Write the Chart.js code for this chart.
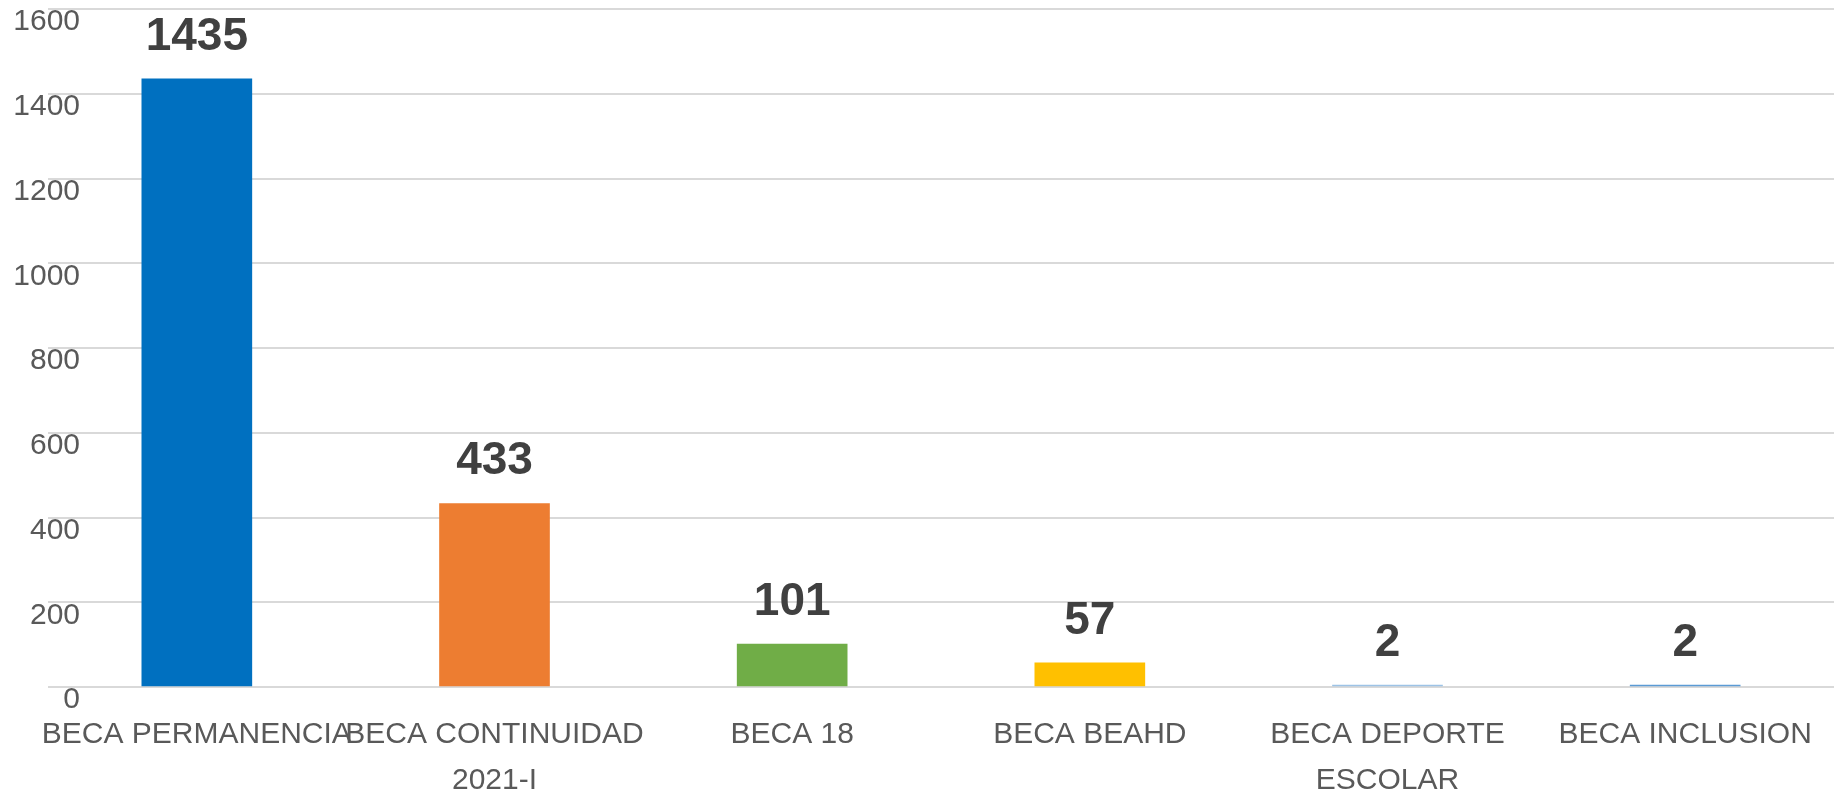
<!DOCTYPE html>
<html>
<head>
<meta charset="utf-8">
<script src="https://cdn.jsdelivr.net/npm/chart.js@4"></script>
<style>
  html, body { margin: 0; padding: 0; background: #fff; }
  #wrap { width: 1844px; height: 797px; }
</style>
</head>
<body>
<div id="wrap"><canvas id="myChart"></canvas></div>
<script>
const categories = [
    'BECA PERMANENCIA',
    ['BECA CONTINUIDAD', '2021-I'],
    'BECA 18',
    'BECA BEAHD',
    ['BECA DEPORTE', 'ESCOLAR'],
    'BECA INCLUSION'
]
const becados = [1435, 433, 101, 57, 2, 2]
const barColors = ['#0070C0', '#ED7D31', '#70AD47', '#FFC000', '#9DC3E6', '#5B9BD5']
const yTicks = [0, 200, 400, 600, 800, 1000, 1200, 1400, 1600]

const font = 'Liberation Sans, Arial, sans-serif'

// numbers above each bar
const valueLabels = {
    id: 'valueLabels',
    afterDatasetsDraw(chart) {
        const ctx = chart.ctx
        const meta = chart.getDatasetMeta(0)
        ctx.save()
        ctx.font = 'bold 46px ' + font
        ctx.fillStyle = '#404040'
        ctx.textAlign = 'center'
        ctx.textBaseline = 'middle'
        meta.data.forEach((bar, i) => {
            ctx.fillText(String(becados[i]), bar.x, bar.y - 42)
        })
        ctx.restore()
    }
}

const data = {
    labels: categories,
    datasets: [{
        label: 'Becas',
        data: becados,
        backgroundColor: barColors,
        borderWidth: 0,
        barThickness: 110,
        minBarLength: 2
    }]
}

const config = {
    type: 'bar',
    data: data,
    options: {
        responsive: true,
        maintainAspectRatio: false,
        animation: false,
        layout: { padding: { top: 9, left: 0, right: 10, bottom: 0 } },
        plugins: {
            legend: { display: false },
            tooltip: { enabled: false }
        },
        scales: {
            x: {
                grid: { display: false, drawTicks: false },
                border: { display: false },
                ticks: {
                    color: '#595959',
                    font: { family: font, size: 30, lineHeight: 1.55 },
                    padding: 24,
                    maxRotation: 0,
                    autoSkip: false
                },
                afterFit: (s) => { s.height = 110 }
            },
            y: {
                min: 0,
                max: 1600,
                afterBuildTicks: (s) => { s.ticks = yTicks.map(v => ({ value: v })) },
                grid: { color: '#D9D9D9', lineWidth: 2, drawTicks: false },
                border: { display: false },
                ticks: {
                    color: '#595959',
                    font: { family: font, size: 30 },
                    padding: -32,
                    labelOffset: 13,
                    callback: (v) => String(v)
                },
                afterFit: (s) => {
                    s.width = 48
                    // labels sit over the grid, so don't clip them to the axis box
                    s._computeLabelArea = () => undefined
                }
            }
        }
    },
    plugins: [valueLabels]
}

const myChart = new Chart(
    document.getElementById('myChart'),
    config
)
</script>
</body>
</html>
